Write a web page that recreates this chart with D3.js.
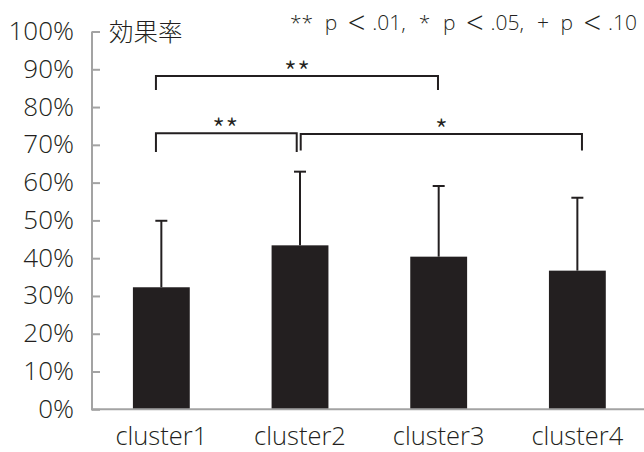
<!DOCTYPE html>
<html><head><meta charset="utf-8">
<script src="https://cdn.jsdelivr.net/npm/d3@7"></script>
<style>
html,body{margin:0;padding:0;background:#fff;}
text{font-family:"Open Sans","Noto Sans CJK JP","Noto Sans",sans-serif;font-weight:300;fill:#231f20;}
text.cjk{font-family:"Noto Sans CJK JP",sans-serif;font-weight:300;}
</style></head>
<body><svg id="c" width="644" height="452"></svg>
<script>
const categories = ["cluster1","cluster2","cluster3","cluster4"];
const means = [0.323, 0.434, 0.404, 0.367];
const upper = [0.499, 0.629, 0.591, 0.560];
const yTicks = [0,0.1,0.2,0.3,0.4,0.5,0.6,0.7,0.8,0.9,1.0];
const bracketFrom = ["cluster1","cluster1","cluster2"];
const bracketTo   = ["cluster3","cluster2","cluster4"];
const bracketLevel = [0.882, 0.731, 0.729];
const bracketDrop  = [0.845, 0.681, 0.685];
const bracketLabel = ["**","**","*"];
const yTitle = "効果率";
const noteTokens = ["**","p","<",".01,","*","p","<",".05,","+","p","<",".10"];

const svg = d3.select("#c");
const x = d3.scaleBand().domain(categories).range([92, 646.7]).paddingInner(0.59).paddingOuter(0.295);
const y = d3.scaleLinear().domain([0,1]).range([409.3, 31.5]);
const cx = c => x(c) + x.bandwidth()/2;

// bars
svg.selectAll("rect.bar").data(categories).join("rect")
  .attr("x", d => x(d)).attr("width", x.bandwidth())
  .attr("y", (d,i) => y(means[i])).attr("height", (d,i) => y(0) - y(means[i]))
  .attr("fill", "#231f20");

// error bars
const eb = svg.append("g").attr("stroke","#231f20").attr("stroke-width",2);
categories.forEach((c,i) => {
  eb.append("line").attr("x1",cx(c)).attr("x2",cx(c)).attr("y1",y(means[i])).attr("y2",y(upper[i]));
  eb.append("line").attr("x1",cx(c)-6).attr("x2",cx(c)+6).attr("y1",y(upper[i])).attr("y2",y(upper[i]));
});

// axes
const axisColor = "#a3a3a3";
const yAxis = d3.axisRight(y).tickValues(yTicks).tickSize(8).tickFormat("");
const gy = svg.append("g").attr("transform","translate(92,0)").call(yAxis);
gy.select(".domain").remove();
gy.selectAll(".tick line").attr("stroke",axisColor).attr("stroke-width",2);
svg.append("line").attr("x1",92).attr("x2",92).attr("y1",y(1)).attr("y2",y(0)+1).attr("stroke",axisColor).attr("stroke-width",2);
svg.append("line").attr("x1",91).attr("x2",644).attr("y1",y(0)).attr("y2",y(0)).attr("stroke",axisColor).attr("stroke-width",2);

// y tick labels
svg.selectAll("text.yl").data(yTicks).join("text")
  .attr("x",74).attr("y",d => y(d)-1.5).attr("text-anchor","end").attr("dominant-baseline","central")
  .style("font-size","26px").text(d => d3.format(".0%")(d));

// category labels
svg.selectAll("text.xl").data(categories).join("text")
  .attr("x", d => cx(d)).attr("y", 444.5).attr("text-anchor","middle")
  .style("font-size","25.5px").text(d => d);

// y title
svg.append("text").attr("class","cjk").attr("x",109).attr("y",41).style("font-size","24.5px").text(yTitle);

// significance note
const noteGap = [9, 8, 3, 10, 10, 8, 3, 10, 9, 8, 3, 0];
const note = svg.append("text").attr("y",30).style("font-size","21px").style("word-spacing","-5px");
const spans = noteTokens.map((t,i) => {
  const s = note.append("tspan").text(t + (i < noteTokens.length-1 ? " " : ""));
  if (t === "<") s.style("font-size","31px").attr("dy", 4);
  else if (i > 0 && noteTokens[i-1] === "<") s.attr("dy", -4);
  return s;
});
const widths = spans.map(s => s.node().getComputedTextLength());
const k = (347 - d3.sum(widths)) / d3.sum(noteGap);
let cur = 290;
spans.forEach((s,i) => { s.attr("x", cur); cur += widths[i] + noteGap[i]*k; });

// brackets
const offL = [-5.4, -5.4, 0.7];
const offR = [-0.7, -3.3, 4.6];
const labelDx = [0, -1, 0];
const br = svg.append("g").attr("fill","none").attr("stroke","#231f20").attr("stroke-width",2);
bracketFrom.forEach((f,i) => {
  const x1 = cx(f)+offL[i], x2 = cx(bracketTo[i])+offR[i];
  br.append("path").attr("d", `M${x1},${y(bracketDrop[i])}V${y(bracketLevel[i])}H${x2}V${y(bracketDrop[i])}`);
  svg.append("text").attr("class","cjk").attr("x",(x1+x2)/2+labelDx[i]).attr("y",y(bracketLevel[i])+8)
    .attr("text-anchor","middle").style("font-size","30px").text(bracketLabel[i]);
});
</script></body></html>
